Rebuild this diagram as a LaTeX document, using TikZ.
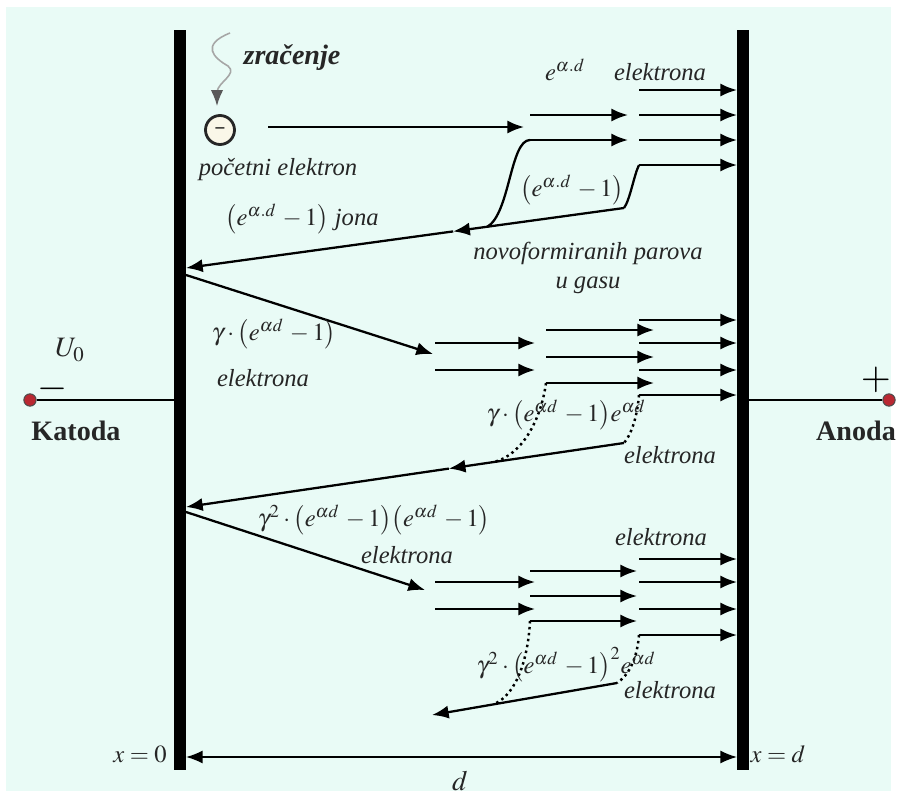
\documentclass[tikz,border=0pt]{standalone}
\usepackage{mathptmx}
\usepackage{fontspec}
\setmainfont{Liberation Serif}
\usetikzlibrary{arrows.meta,calc,positioning}

\definecolor{bgcyan}{RGB}{233,251,246}
\definecolor{cream}{RGB}{250,247,232}
\definecolor{pinred}{RGB}{185,40,50}

\tikzset{
  elec/.style={line width=1.3pt, -{Latex[length=9.5pt,width=7.5pt]}},
  track/.style={line width=1.3pt},
  dots/.style={line width=1.4pt, dotted},
  plate/.style={line width=7pt},
  lbl/.style={font=\fontsize{14}{16}\selectfont\itshape, inner sep=1pt, text=black!85},
  bold/.style={font=\fontsize{16}{18}\selectfont\bfseries, inner sep=1pt, text=black!85},
  pin/.style={circle, fill=pinred, draw=black!70, line width=0.6pt, inner sep=0pt, minimum size=7pt},
}

\begin{document}
\begin{tikzpicture}[x=0.02cm, y=-0.02cm]
    \useasboundingbox (0,0) rectangle (897,798);
    \fill[bgcyan] (6,7) rectangle (891,791);

    % Electrodes
    \coordinate (katTop) at (180,30);  \coordinate (katBot) at (180,770);
    \coordinate (anTop)  at (743,30);  \coordinate (anBot)  at (743,770);
    \draw[plate] (katTop) -- (katBot);
    \draw[plate] (anTop) -- (anBot);

    % Terminals and wires
    \node[pin] (katPin) at (30,400) {};
    \node[pin] (anPin)  at (889,400) {};
    \draw[track] (katPin) -- (katPin -| katTop);
    \draw[track] (anPin) -- (anPin -| anTop);
    \node[bold] (katoda) at (76,431) {Katoda};
    \node[bold] (anoda)  at (856,431) {Anoda};
    \node[lbl, font=\fontsize{16}{18}\selectfont] (u0) at (70,350) {$U_0$};
    \node[inner sep=0pt] (minus) at (53,389) {\fontsize{22}{22}\selectfont$-$};
    \node[inner sep=0pt] (plus)  at (876,380) {\fontsize{22}{22}\selectfont$+$};

    % Radiation and the first electron
    \draw[gray!70, line width=0.9pt] (230,33) .. controls (200,45) and (214,58) .. (228,66)
        .. controls (238,74) and (218,82) .. (217,92);
    \draw[-{Latex[length=9pt,width=7pt]}, line width=0.9pt, gray!70!black] (217,91) -- (217,106);
    \node[bold, font=\fontsize{16}{18}\selectfont\bfseries\itshape] (zrac) at (292,58) {zračenje};
    \node[circle, draw=black!85, line width=1.6pt, fill=cream, minimum size=0.58cm, inner sep=0pt]
        (e0) at (220,130) {\bfseries --};
    \coordinate (e0end) at (524,127);
    \draw[elec] (268,127) -- (e0end);
    \node[lbl] (pocetni) at (278,170) {početni elektron};

    % First avalanche
    \foreach \y in {115,140} \draw[elec] (530,\y) -- (628,\y);
    \foreach \y in {90,115,140,165} \draw[elec] (639,\y) -- (737,\y);
    \node[lbl] (ead) at (565,70) {$e^{\alpha.d}$};
    \node[lbl] (elTop) at (660,72) {elektrona};
    \node[lbl] (parovi) at (572,190) {$\big(e^{\alpha.d}\,-1\big)$};
    \node[lbl, align=center] (novo) at (588,268) {novoformiranih parova\\u gasu};

    % Ions back to the cathode
    \coordinate (ionA) at (624,208);
    \coordinate (ionK) at (186,268);
    \draw[track] (530,140) .. controls (510,140) and (510,214) .. (487,227);
    \draw[track] (639,165) .. controls (634,175) and (630,200) .. (ionA);
    \draw[elec] (ionA) -- ($(ionA)!0.39!(ionK)$);
    \draw[elec] ($(ionA)!0.39!(ionK)$) -- (ionK);
    \node[lbl] (jona) at (302,219) {$\big(e^{\alpha.d}\,-1\big)$ jona};

    % Second avalanche
    \coordinate (gamA) at (186,275);
    \draw[elec] (gamA) -- (433,354);
    \node[lbl] (gam1) at (274,334) {$\gamma\cdot\big(e^{\alpha d}\,-1\big)$};
    \node[lbl] (elGam1) at (263,378) {elektrona};
    \foreach \y in {343,370} \draw[elec] (435,\y) -- (535,\y);
    \foreach \y in {330,357,383} \draw[elec] (546,\y) -- (654,\y);
    \foreach \y in {320,343,370,395} \draw[elec] (639,\y) -- (737,\y);

    \coordinate (retB) at (624,443);
    \coordinate (retBK) at (186,507);
    \draw[dots] (546,383) .. controls (541,420) and (522,455) .. (494,462);
    \draw[dots] (639,395) .. controls (637,420) and (630,436) .. (retB);
    \draw[elec] (retB) -- ($(retB)!0.4!(retBK)$);
    \draw[elec] ($(retB)!0.4!(retBK)$) -- (retBK);
    \node[lbl] (gam1b) at (566,415) {$\gamma\cdot\big(e^{\alpha d}\,-1\big)e^{\alpha d}$};
    \node[lbl] (elGam1b) at (670,455) {elektrona};

    % Third avalanche
    \coordinate (gamB) at (186,512);
    \draw[elec] (gamB) -- (425,590);
    \node[lbl] (gam2) at (374,520) {$\gamma^{2}\cdot\big(e^{\alpha d}\,-1\big)\big(e^{\alpha d}\,-1\big)$};
    \node[lbl] (elGam2) at (407,555) {elektrona};
    \node[lbl] (elGam2r) at (661,537) {elektrona};
    \foreach \y in {582,609} \draw[elec] (435,\y) -- (535,\y);
    \foreach \y in {571,596,621} \draw[elec] (530,\y) -- (637,\y);
    \foreach \y in {559,582,609,635} \draw[elec] (639,\y) -- (737,\y);

    \coordinate (retC) at (617,683);
    \coordinate (retCend) at (432,715);
    \draw[dots] (530,621) .. controls (528,660) and (516,695) .. (494,704);
    \draw[dots] (639,635) .. controls (637,660) and (628,676) .. (retC);
    \draw[elec] (retC) -- (retCend);
    \node[lbl] (gam2b) at (566,665) {$\gamma^{2}\cdot\big(e^{\alpha d}\,-1\big)^{2}e^{\alpha d}$};
    \node[lbl] (elGam2b) at (670,690) {elektrona};

    % Gap width
    \coordinate (dL) at (186,757);
    \coordinate (dR) at (737,757);
    \draw[{Latex[length=9.5pt,width=7.5pt]}-{Latex[length=9.5pt,width=7.5pt]}, line width=1pt] (dL) -- (dR);
    \node[lbl] (x0) at (140,754) {$x=0$};
    \node[lbl] (xd) at (778,754) {$x=d$};
    \node[lbl, font=\fontsize{16}{18}\selectfont] (dLbl) at (460,781) {$d$};
\end{tikzpicture}
\end{document}
